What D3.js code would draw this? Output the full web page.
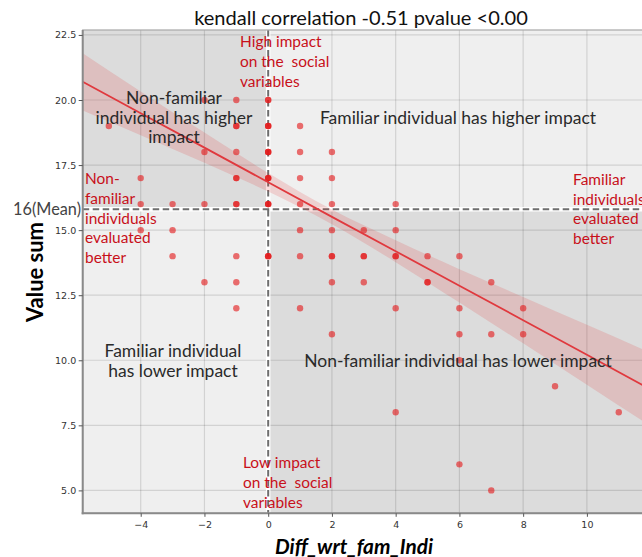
<!DOCTYPE html>
<html>
<head>
<meta charset="utf-8">
<script src="https://cdn.jsdelivr.net/npm/d3@7/dist/d3.min.js"></script>
<style>
  html, body { margin: 0; padding: 0; background: #ffffff; overflow: hidden; }
  svg { display: block; }
  text { white-space: pre; }
</style>
</head>
<body>
<svg id="chart" width="642" height="557"></svg>
<script>
// ---------------- data ----------------
const ptX = [-5, -4, -4, -4, -3, -3, -3, -2, -2, -2, -2,
             -1, -1, -1, -1, -1, -1, -1, -1,
              0, 0, 0, 0, 0, 0,
              1, 1, 1, 1, 1, 1, 1,
              2, 2, 2, 2, 2, 2, 2,
              3, 3, 3,
              4, 4, 4, 4, 4,
              5, 5,
              6, 6, 6, 6, 6,
              7, 7, 7,
              8, 8,
              9, 11];
const ptY = [19, 17, 16, 15, 16, 15, 14, 20, 18, 16, 13,
             20, 19, 18, 17, 16, 14, 13, 12,
             20, 19, 18, 17, 16, 14,
             19, 18, 17, 16, 15, 14, 12,
             18, 17, 16, 15, 14, 13, 11,
             15, 14, 13,
             16, 15, 14, 12, 8,
             14, 13,
             14, 12, 11, 10, 6,
             13, 11, 5,
             12, 11,
             9, 8];
const ptCount = [1, 1, 1, 1, 1, 1, 1, 1, 1, 1, 1,
                 1, 2, 1, 2, 2, 1, 1, 1,
                 2, 3, 3, 3, 3, 3,
                 1, 1, 1, 1, 1, 1, 1,
                 1, 1, 1, 1, 2, 1, 1,
                 1, 2, 1,
                 1, 1, 2, 1, 1,
                 1, 2,
                 1, 1, 1, 1, 1,
                 1, 1, 1,
                 1, 1,
                 1, 1];

// regression fit and confidence band
const fitX     = [-5.82, -4, -2, 0, 2, 4, 6, 8, 10, 12];
const fitY     = [20.70, 19.49, 18.17, 16.84, 15.51, 14.19, 12.86, 11.54, 10.21, 8.88];
const bandUp   = [21.80, 20.33, 18.75, 17.20, 15.79, 14.61, 13.50, 12.43, 11.36, 10.29];
const bandLow  = [19.60, 18.65, 17.59, 16.48, 15.23, 13.77, 12.22, 10.65, 9.06, 7.47];

const meanValue = 15.8;
const meanLabel = "16(Mean)";
const splitX = 0;

const xTicks = [-4, -2, 0, 2, 4, 6, 8, 10];
const yTicks = [5.0, 7.5, 10.0, 12.5, 15.0, 17.5, 20.0, 22.5];
const xDomain = [-5.82, 11.98];
const yDomain = [4.12, 22.69];

const titleText = "kendall correlation -0.51 pvalue <0.00";
const xLabel = "Diff_wrt_fam_Indi";
const yLabel = "Value sum";

// ---------------- drawing ----------------
const svg = d3.select("#chart");
const L = 82.7, R = 650, T = 30, B = 513.3;

const x = d3.scaleLinear().domain(xDomain).range([L, R]);
const y = d3.scaleLinear().domain(yDomain).range([B, T]);

const DARK = "#dcdcdc", LIGHT = "#efefef";
const RED = "#e31a1c";
const ANNOT_RED = "#c8101a";

svg.append("defs").append("clipPath").attr("id", "plotclip")
  .append("rect").attr("x", L).attr("y", T).attr("width", R - L).attr("height", B - T);

const plot = svg.append("g").attr("clip-path", "url(#plotclip)");

// quadrant backgrounds
const xs = x(splitX), ym = y(meanValue);
plot.append("rect").attr("x", L).attr("y", T).attr("width", xs - L).attr("height", ym - T).attr("fill", DARK);
plot.append("rect").attr("x", xs).attr("y", T).attr("width", R - xs).attr("height", ym - T).attr("fill", LIGHT);
plot.append("rect").attr("x", L).attr("y", ym).attr("width", xs - L).attr("height", B - ym).attr("fill", LIGHT);
plot.append("rect").attr("x", xs).attr("y", ym).attr("width", R - xs).attr("height", B - ym).attr("fill", DARK);

// grid
plot.append("g").selectAll("line").data(xTicks).join("line")
  .attr("x1", d => x(d)).attr("x2", d => x(d)).attr("y1", T).attr("y2", B)
  .attr("stroke", "#000").attr("stroke-opacity", 0.12).attr("stroke-width", 1.2);
plot.append("g").selectAll("line").data(yTicks).join("line")
  .attr("x1", L).attr("x2", R).attr("y1", d => y(d)).attr("y2", d => y(d))
  .attr("stroke", "#000").attr("stroke-opacity", 0.12).attr("stroke-width", 1.2);

// mean / split lines: white underlay + dashed gray
plot.append("line").attr("x1", L).attr("x2", R).attr("y1", ym).attr("y2", ym)
  .attr("stroke", "#ffffff").attr("stroke-width", 4.5);
plot.append("line").attr("x1", xs).attr("x2", xs).attr("y1", T).attr("y2", B)
  .attr("stroke", "#ffffff").attr("stroke-width", 4.5);
plot.append("line").attr("x1", L).attr("x2", R).attr("y1", ym).attr("y2", ym)
  .attr("stroke", "#6e6e6e").attr("stroke-width", 2).attr("stroke-dasharray", "6.5,3.5");
plot.append("line").attr("x1", xs).attr("x2", xs).attr("y1", T).attr("y2", B)
  .attr("stroke", "#6e6e6e").attr("stroke-width", 2).attr("stroke-dasharray", "6.5,3.5");

// points (repeated for overlapping observations)
const pts = [];
ptX.forEach((v, i) => { for (let k = 0; k < ptCount[i]; k++) pts.push([v, ptY[i]]); });
plot.append("g").selectAll("circle").data(pts).join("circle")
  .attr("cx", d => x(d[0])).attr("cy", d => y(d[1])).attr("r", 3.2)
  .attr("fill", RED).attr("fill-opacity", 0.62);

// confidence band
const bandData = fitX.map((v, i) => [v, bandLow[i], bandUp[i]]);
plot.append("path").datum(bandData)
  .attr("d", d3.area().x(d => x(d[0])).y0(d => y(d[1])).y1(d => y(d[2])).curve(d3.curveMonotoneX))
  .attr("fill", RED).attr("fill-opacity", 0.15);

// regression line
const lineData = fitX.map((v, i) => [v, fitY[i]]);
plot.append("path").datum(lineData)
  .attr("d", d3.line().x(d => x(d[0])).y(d => y(d[1])))
  .attr("fill", "none").attr("stroke", "#e0393e").attr("stroke-width", 1.8);

// frame
svg.append("rect").attr("x", L).attr("y", T).attr("width", R - L).attr("height", B - T)
  .attr("fill", "none").attr("stroke", "#a8a8a8").attr("stroke-width", 1.2);
svg.append("line").attr("x1", L).attr("x2", L).attr("y1", T).attr("y2", B + 1)
  .attr("stroke", "#8a8a8a").attr("stroke-width", 2);
svg.append("line").attr("x1", L - 1).attr("x2", R).attr("y1", B).attr("y2", B)
  .attr("stroke", "#8a8a8a").attr("stroke-width", 2);

// axes
const fmtX = d => d3.format("d")(d).replace("-", "\u2212");
const xAxis = d3.axisBottom(x).tickValues(xTicks).tickFormat(fmtX).tickSize(3.5).tickPadding(4);
const yAxis = d3.axisLeft(y).tickValues(yTicks).tickFormat(d3.format(".1f")).tickSize(4).tickPadding(2.5);

const gx = svg.append("g").attr("transform", `translate(0,${B})`).call(xAxis);
const gy = svg.append("g").attr("transform", `translate(${L},0)`).call(yAxis);
[gx, gy].forEach(g => {
  g.select(".domain").remove();
  g.selectAll(".tick line").attr("stroke", "#555").attr("stroke-width", 1);
  g.selectAll(".tick text").attr("fill", "#333").attr("font-family", "DejaVu Sans").attr("font-size", 9.5);
});

// size a text so that its rendered width matches the width seen in the reference
function fitSize(node, base, targetW) {
  const w = node.getComputedTextLength();
  return w > 0 ? base * targetW / w : base;
}

// title & axis labels
const title = svg.append("text").attr("x", 361).attr("y", 25).attr("text-anchor", "middle")
  .attr("font-family", "Lato").attr("font-size", 20).attr("fill", "#111").text(titleText);
title.attr("font-size", fitSize(title.node(), 20, 334));

const xl = svg.append("text").attr("x", 354).attr("y", 554).attr("text-anchor", "middle")
  .attr("font-family", "Lato").attr("font-weight", "bold").attr("font-style", "italic")
  .attr("font-size", 19.5).attr("fill", "#000").text(xLabel);
xl.attr("font-size", fitSize(xl.node(), 19.5, 158));

const yl = svg.append("text").attr("transform", "translate(43,272) rotate(-90)").attr("text-anchor", "middle")
  .attr("font-family", "Lato").attr("font-weight", "bold").attr("font-size", 20).attr("fill", "#000").text(yLabel);
yl.attr("font-size", fitSize(yl.node(), 20, 100));

// mean label
const ml = svg.append("text").attr("x", 81).attr("y", ym + 6).attr("text-anchor", "end")
  .attr("font-family", "Lato").attr("font-size", 17).attr("fill", "#444").text(meanLabel);
ml.attr("font-size", fitSize(ml.node(), 17, 68));

// annotations
function block(lines, xPos, y0, dy, anchor, color, size) {
  const t = svg.append("text").attr("font-family", "Lato").attr("font-size", size)
    .attr("fill", color).attr("text-anchor", anchor);
  lines.forEach((s, i) => t.append("tspan").attr("x", xPos).attr("y", y0 + i * dy).text(s));
  return t;
}
// probe sizes
const probe = svg.append("text").attr("font-family", "Lato").attr("font-size", 16).text("individual has higher");
const darkSize = fitSize(probe.node(), 16, 157);
probe.text("Low impact");
const redSize = fitSize(probe.node(), 16, 77.5);
probe.remove();

const DARKTXT = "#2a2a2a";
block(["Non-familiar", "individual has higher", "impact"], 174, 104, 19.5, "middle", DARKTXT, darkSize);
block(["Familiar individual has higher impact"], 458, 124, 20, "middle", DARKTXT, darkSize);
block(["Familiar individual", "has lower impact"], 173, 357, 20, "middle", DARKTXT, darkSize);
block(["Non-familiar individual has lower impact"], 458, 367, 20, "middle", DARKTXT, darkSize);

block(["High impact", "on the  social", "variables"], 240, 47, 20, "start", ANNOT_RED, redSize);
block(["Low impact", "on the  social", "variables"], 243, 468, 20, "start", ANNOT_RED, redSize);
block(["Non-", "familiar", "individuals", "evaluated", "better"], 85, 184, 19.8, "start", ANNOT_RED, redSize);
block(["Familiar", "individuals", "evaluated", "better"], 573, 185, 19.5, "start", ANNOT_RED, redSize);
</script>
</body>
</html>
